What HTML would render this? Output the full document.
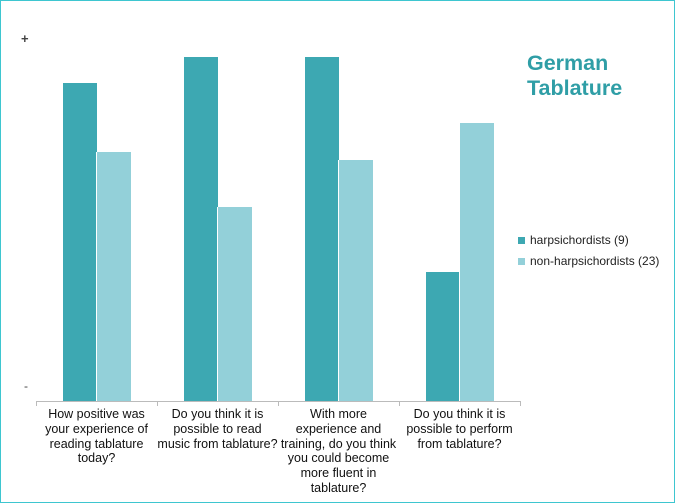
<!DOCTYPE html>
<html><head><style>
html,body{margin:0;padding:0;background:#fff}
body{width:675px;height:503px;position:relative;overflow:hidden;font-family:"Liberation Sans",Arial,sans-serif}
.frame{position:absolute;left:0;top:0;width:673px;height:501px;border:1px solid #3ec6d0}
.b{position:absolute;width:34px;bottom:102px}
.d{background:#3da8b2}.l{background:#93d0d9;border-left:1px solid #fff}
.lab{position:absolute;top:407px;width:141px;text-align:center;font-size:12.5px;line-height:14.8px;color:#111;white-space:nowrap}
.t{position:absolute;left:36px;top:401px;width:1px;height:5px;background:#bbb}
</style></head><body>
<div class="frame"></div>
<div style="position:absolute;left:21px;top:31px;font-size:13px;color:#444;font-weight:bold">+</div>
<div style="position:absolute;left:24px;top:379px;font-size:12px;color:#444">-</div>
<div class="b d" style="left:63px;top:83px"></div><div class="b l" style="left:96px;top:152px"></div>
<div class="b d" style="left:184px;top:57px"></div><div class="b l" style="left:217px;top:207px"></div>
<div class="b d" style="left:305px;top:57px"></div><div class="b l" style="left:338px;top:160px"></div>
<div class="b d" style="left:426px;top:272px"></div><div class="b l" style="left:459px;top:123px"></div>
<div style="position:absolute;left:36px;top:401px;width:485px;height:1px;background:#bbb"></div>
<div class="t" style="left:36px"></div><div class="t" style="left:157px"></div><div class="t" style="left:278px"></div><div class="t" style="left:399px"></div><div class="t" style="left:520px"></div>
<div class="lab" style="left:26px">How positive was<br>your experience of<br>reading tablature<br>today?</div>
<div class="lab" style="left:147px">Do you think it is<br>possible to read<br>music from tablature?</div>
<div class="lab" style="left:268px">With more<br>experience and<br>training, do you think<br>you could become<br>more fluent in<br>tablature?</div>
<div class="lab" style="left:389px">Do you think it is<br>possible to perform<br>from tablature?</div>
<div style="position:absolute;left:527px;top:51px;font-size:21.5px;font-weight:bold;color:#2f9ea6;line-height:25px">German<br>Tablature</div>
<div style="position:absolute;left:518px;top:237px;width:7px;height:7px;background:#3da8b2"></div>
<div style="position:absolute;left:530px;top:233px;font-size:12px;color:#222">harpsichordists (9)</div>
<div style="position:absolute;left:518px;top:258px;width:7px;height:7px;background:#93d0d9"></div>
<div style="position:absolute;left:530px;top:254px;font-size:12px;color:#222">non-harpsichordists (23)</div>
</body></html>
